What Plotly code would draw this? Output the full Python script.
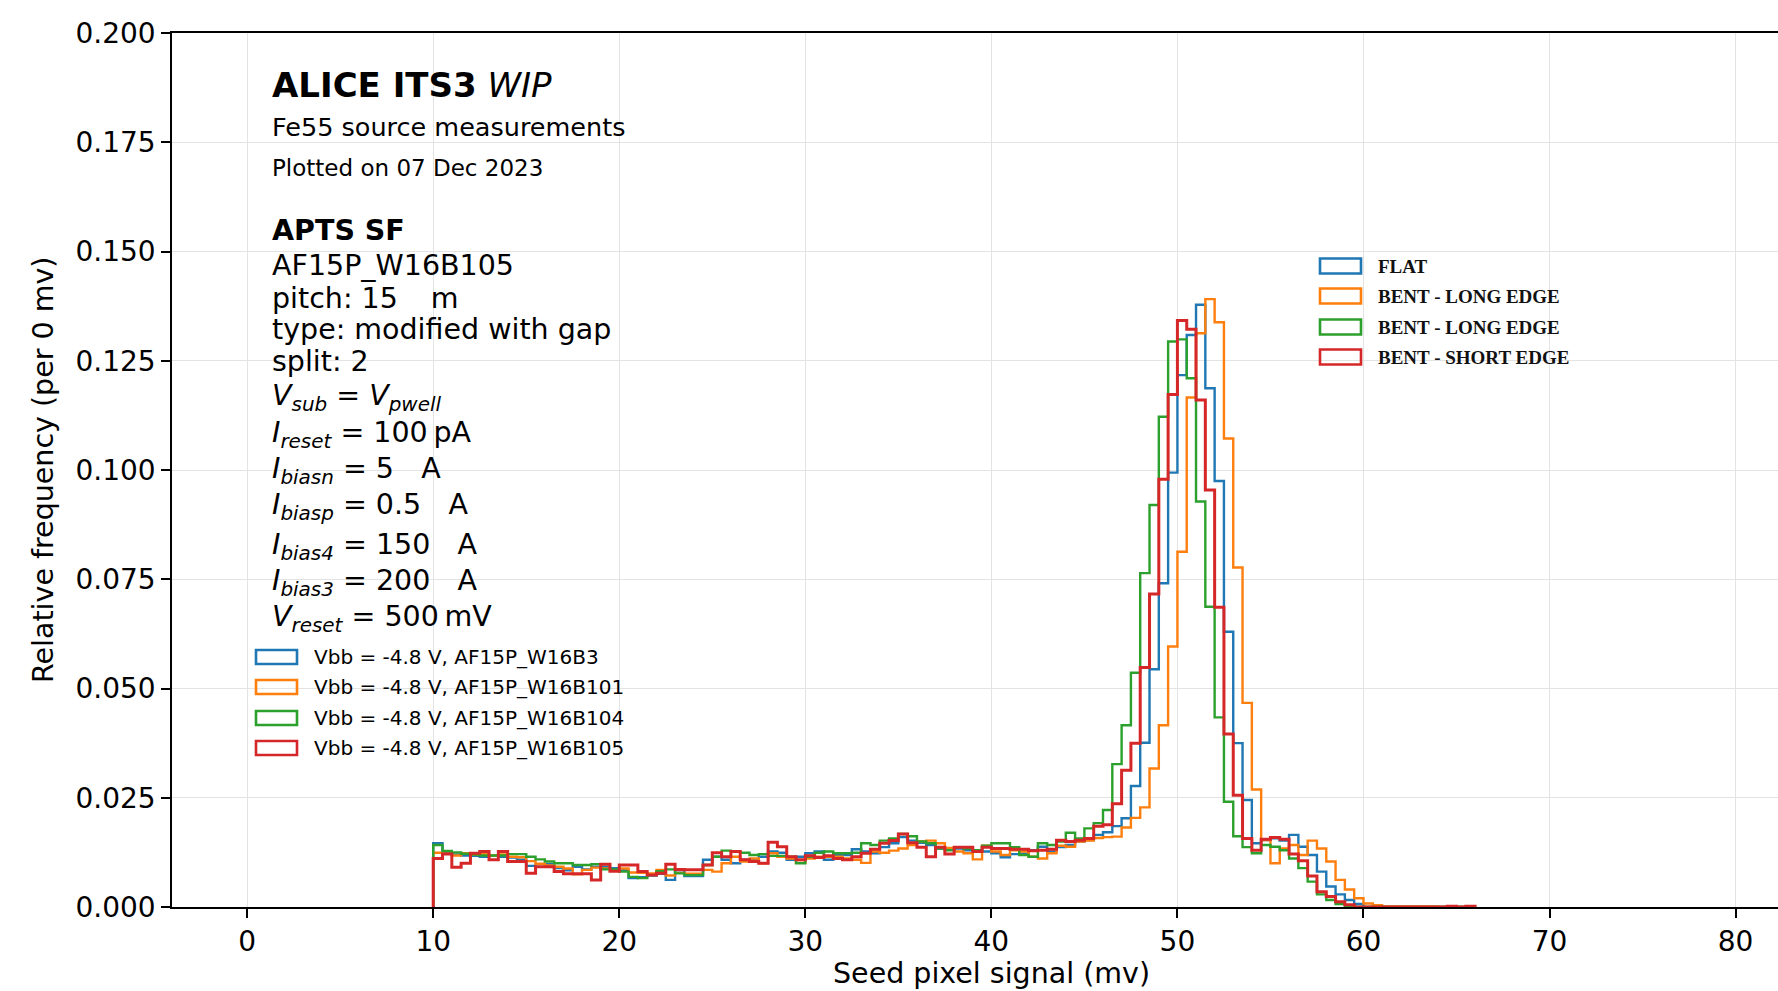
import numpy as np
import plotly.graph_objects as go

# ---------------- data ----------------
bin_start = 10.0
bin_width = 0.5

flat_b3 = [
    0.0146, 0.0125, 0.0120, 0.0118, 0.0117, 0.0115, 0.0117, 0.0115, 0.0113, 0.0108,
    0.0094, 0.0098, 0.0098, 0.0089, 0.0084, 0.0092, 0.0086, 0.0092, 0.0092, 0.0089,
    0.0084, 0.0066, 0.0068, 0.0072, 0.0076, 0.0062, 0.0084, 0.0071, 0.0071, 0.0108,
    0.0115, 0.0108, 0.0100, 0.0108, 0.0108, 0.0115, 0.0127, 0.0124, 0.0108, 0.0115,
    0.0123, 0.0127, 0.0108, 0.0119, 0.0119, 0.0132, 0.0127, 0.0123, 0.0137, 0.0146,
    0.0160, 0.0152, 0.0147, 0.0142, 0.0134, 0.0132, 0.0134, 0.0130, 0.0130, 0.0127,
    0.0123, 0.0114, 0.0121, 0.0122, 0.0130, 0.0138, 0.0127, 0.0137, 0.0142, 0.0150,
    0.0153, 0.0165, 0.0171, 0.0185, 0.0203, 0.0277, 0.0376, 0.0544, 0.0741, 0.0994,
    0.1217, 0.1309, 0.1378, 0.1187, 0.0975, 0.0630, 0.0375, 0.0245, 0.0146, 0.0153,
    0.0157, 0.0152, 0.0165, 0.0138, 0.0119, 0.0081, 0.0047, 0.0029, 0.0016, 0.0007,
    0.0, 0.0, 0.0, 0.0, 0.0, 0.0, 0.0, 0.0, 0.0, 0.0,
    0.0, 0.0,
]

bent_long_b101 = [
    0.0124, 0.0122, 0.0118, 0.0123, 0.0120, 0.0122, 0.0118, 0.0120, 0.0115, 0.0114,
    0.0105, 0.0099, 0.0095, 0.0092, 0.0088, 0.0075, 0.0085, 0.0090, 0.0088, 0.0083,
    0.0088, 0.0079, 0.0078, 0.0077, 0.0085, 0.0072, 0.0078, 0.0076, 0.0076, 0.0085,
    0.0081, 0.0100, 0.0115, 0.0104, 0.0111, 0.0100, 0.0123, 0.0115, 0.0111, 0.0101,
    0.0111, 0.0115, 0.0115, 0.0115, 0.0111, 0.0108, 0.0101, 0.0127, 0.0124, 0.0129,
    0.0134, 0.0142, 0.0150, 0.0152, 0.0146, 0.0135, 0.0127, 0.0123, 0.0109, 0.0140,
    0.0127, 0.0119, 0.0130, 0.0127, 0.0115, 0.0111, 0.0123, 0.0140, 0.0138, 0.0150,
    0.0152, 0.0158, 0.0160, 0.0161, 0.0182, 0.0204, 0.0228, 0.0317, 0.0416, 0.0596,
    0.0813, 0.1166, 0.1313, 0.1391, 0.1338, 0.1072, 0.0777, 0.0467, 0.0269, 0.0153,
    0.0100, 0.0134, 0.0142, 0.0119, 0.0152, 0.0134, 0.0104, 0.0062, 0.0040, 0.0020,
    0.0008, 0.0004, 0.0001, 0.0001, 0.0001, 0.0001, 0.0001, 0.0001, 0.0, 0.0,
    0.0, 0.0,
]

bent_long_b104 = [
    0.0142, 0.0128, 0.0125, 0.0122, 0.0120, 0.0118, 0.0118, 0.0118, 0.0121, 0.0121,
    0.0115, 0.0109, 0.0104, 0.0100, 0.0100, 0.0096, 0.0096, 0.0098, 0.0086, 0.0086,
    0.0081, 0.0069, 0.0066, 0.0073, 0.0082, 0.0086, 0.0077, 0.0073, 0.0073, 0.0096,
    0.0115, 0.0129, 0.0127, 0.0124, 0.0119, 0.0121, 0.0117, 0.0117, 0.0115, 0.0100,
    0.0115, 0.0124, 0.0127, 0.0123, 0.0123, 0.0124, 0.0146, 0.0142, 0.0152, 0.0157,
    0.0167, 0.0162, 0.0150, 0.0146, 0.0134, 0.0130, 0.0137, 0.0134, 0.0130, 0.0140,
    0.0146, 0.0146, 0.0137, 0.0119, 0.0115, 0.0146, 0.0142, 0.0150, 0.0170, 0.0157,
    0.0180, 0.0192, 0.0222, 0.0327, 0.0416, 0.0536, 0.0764, 0.0920, 0.1122, 0.1294,
    0.1299, 0.1210, 0.0928, 0.0687, 0.0434, 0.0241, 0.0162, 0.0137, 0.0123, 0.0142,
    0.0138, 0.0130, 0.0111, 0.0089, 0.0058, 0.0029, 0.0016, 0.0007, 0.0003, 0.0,
    0.0, 0.0, 0.0, 0.0, 0.0, 0.0, 0.0, 0.0, 0.0, 0.0,
    0.0, 0.0,
]

bent_short_b105 = [
    0.0111, 0.0121, 0.0091, 0.0100, 0.0123, 0.0127, 0.0108, 0.0127, 0.0104, 0.0104,
    0.0077, 0.0092, 0.0092, 0.0081, 0.0076, 0.0076, 0.0076, 0.0062, 0.0098, 0.0082,
    0.0096, 0.0096, 0.0081, 0.0073, 0.0077, 0.0098, 0.0086, 0.0085, 0.0085, 0.0096,
    0.0124, 0.0115, 0.0127, 0.0108, 0.0104, 0.0100, 0.0148, 0.0138, 0.0115, 0.0108,
    0.0117, 0.0113, 0.0117, 0.0111, 0.0108, 0.0115, 0.0123, 0.0132, 0.0146, 0.0152,
    0.0167, 0.0147, 0.0137, 0.0115, 0.0137, 0.0121, 0.0137, 0.0137, 0.0127, 0.0137,
    0.0134, 0.0134, 0.0132, 0.0132, 0.0129, 0.0130, 0.0132, 0.0153, 0.0150, 0.0153,
    0.0157, 0.0185, 0.0188, 0.0236, 0.0313, 0.0375, 0.0548, 0.0716, 0.0979, 0.1173,
    0.1342, 0.1322, 0.1160, 0.0954, 0.0686, 0.0396, 0.0256, 0.0157, 0.0130, 0.0155,
    0.0159, 0.0155, 0.0121, 0.0106, 0.0071, 0.0035, 0.0024, 0.0012, 0.0005, 0.0,
    0.0, 0.0, 0.0, 0.0, 0.0, 0.0, 0.0, 0.0, 0.0, 0.0002,
    0.0, 0.0002,
]

series_values = [flat_b3, bent_long_b101, bent_long_b104, bent_short_b105]
series_colors = ["#1f77b4", "#ff7f0e", "#2ca02c", "#d62728"]
labels_lower = [
    "Vbb = -4.8 V, AF15P_W16B3",
    "Vbb = -4.8 V, AF15P_W16B101",
    "Vbb = -4.8 V, AF15P_W16B104",
    "Vbb = -4.8 V, AF15P_W16B105",
]
labels_upper = ["FLAT", "BENT - LONG EDGE", "BENT - LONG EDGE", "BENT - SHORT EDGE"]

x_ticks = [0, 10, 20, 30, 40, 50, 60, 70, 80]
y_ticks = [0.0, 0.025, 0.05, 0.075, 0.1, 0.125, 0.15, 0.175, 0.2]

info_lines = [
    "AF15P_W16B105",
    "pitch: 15\u00a0\u00a0\u00a0\u2009m",
    "type: modified with gap",
    "split: 2",
    "<i>V</i><sub><i>sub</i></sub> = <i>V</i><sub><i>pwell</i></sub>",
    "<i>I</i><sub><i>reset</i></sub> = 100\u2009pA",
    "<i>I</i><sub><i>biasn</i></sub> = 5\u00a0\u00a0\u00a0A",
    "<i>I</i><sub><i>biasp</i></sub> = 0.5\u00a0\u00a0\u00a0A",
    "<i>I</i><sub><i>bias4</i></sub> = 150\u00a0\u00a0\u00a0A",
    "<i>I</i><sub><i>bias3</i></sub> = 200\u00a0\u00a0\u00a0A",
    "<i>V</i><sub><i>reset</i></sub> = 500\u2009mV",
]

# ---------------- geometry ----------------
W, H = 1778, 991
ML, MR, MT, MB = 172, 0, 33, 84
PW = W - ML - MR
PH = H - MT - MB


def pxp(x):
    return (x - ML) / PW


def pyp(y):
    return (H - MB - y) / PH


FONT = "DejaVu Sans"
fig = go.Figure()

for vals, col in zip(series_values, series_colors):
    n = len(vals)
    edges = bin_start + bin_width * np.arange(n + 1)
    xs = [edges[0]] + list(edges)
    ys = [0.0] + list(vals) + [0.0]
    fig.add_trace(go.Scatter(
        x=xs, y=ys, mode="lines", line_shape="hv",
        line=dict(color=col, width=3.0 if col == "#d62728" else 2.4),
        showlegend=False, hoverinfo="skip",
    ))

axis_common = dict(
    showline=True, linecolor="black", linewidth=1.6,
    ticks="outside", ticklen=9, tickwidth=1.6, tickcolor="black",
    showgrid=True, gridcolor="#e3e3e3", gridwidth=1,
    zeroline=False,
    tickfont=dict(family=FONT, size=28, color="black"),
)

fig.update_layout(
    width=W, height=H,
    margin=dict(l=ML, r=MR, t=MT, b=MB, pad=0),
    paper_bgcolor="white", plot_bgcolor="white",
    showlegend=False,
    xaxis=dict(range=[-4.04, 82.28], tickvals=x_ticks, mirror=True, **axis_common),
    yaxis=dict(range=[0, 0.2], tickvals=y_ticks, tickformat=".3f", mirror=False, **axis_common),
)

ann = []
# axis titles
ann.append(dict(text="Seed pixel signal (mv)", xref="x", yref="paper", x=40, y=pyp(973),
                xanchor="center", yanchor="middle", showarrow=False,
                font=dict(family=FONT, size=28.5, color="black")))
ann.append(dict(text="Relative frequency (per 0 mv)", xref="paper", yref="paper",
                x=pxp(43), y=0.5, textangle=-90, xanchor="center", yanchor="middle",
                showarrow=False, font=dict(family=FONT, size=28.5, color="black")))

TX = pxp(270)
ann.append(dict(text="<b>ALICE ITS3</b> <i>WIP</i>", xref="paper", yref="paper", x=TX, y=pyp(85),
                xanchor="left", yanchor="middle", showarrow=False,
                font=dict(family=FONT, size=34, color="black")))
ann.append(dict(text="Fe55 source measurements", xref="paper", yref="paper", x=TX, y=pyp(127),
                xanchor="left", yanchor="middle", showarrow=False,
                font=dict(family=FONT, size=25.5, color="black")))
ann.append(dict(text="Plotted on 07 Dec 2023", xref="paper", yref="paper", x=TX, y=pyp(168),
                xanchor="left", yanchor="middle", showarrow=False,
                font=dict(family=FONT, size=23, color="black")))
ann.append(dict(text="<b>APTS SF</b>", xref="paper", yref="paper", x=TX, y=pyp(230),
                xanchor="left", yanchor="middle", showarrow=False,
                font=dict(family=FONT, size=28.5, color="black")))
info_y = [265, 298, 329, 362, 397, 434, 470, 507, 546, 582, 618]
for t, yy in zip(info_lines, info_y):
    ann.append(dict(text=t, xref="paper", yref="paper", x=TX, y=pyp(yy),
                    xanchor="left", yanchor="middle", showarrow=False,
                    font=dict(family=FONT, size=28.5, color="black")))

shapes = []
# lower-left legend
ll_y = [657, 687, 718, 748]
for lab, col, cy in zip(labels_lower, series_colors, ll_y):
    shapes.append(dict(type="rect", xref="paper", yref="paper",
                       x0=pxp(256), x1=pxp(297), y0=pyp(cy + 7), y1=pyp(cy - 7),
                       line=dict(color=col, width=2.6), fillcolor="rgba(0,0,0,0)"))
    ann.append(dict(text=lab, xref="paper", yref="paper", x=pxp(312), y=pyp(cy),
                    xanchor="left", yanchor="middle", showarrow=False,
                    font=dict(family=FONT, size=20, color="black")))

# upper-right legend
ur_y = [266, 296, 327, 357]
for lab, col, cy in zip(labels_upper, series_colors, ur_y):
    shapes.append(dict(type="rect", xref="paper", yref="paper",
                       x0=pxp(1320), x1=pxp(1361), y0=pyp(cy + 7.5), y1=pyp(cy - 7.5),
                       line=dict(color=col, width=2.6), fillcolor="rgba(0,0,0,0)"))
    ann.append(dict(text="<b>" + lab + "</b>", xref="paper", yref="paper", x=pxp(1376), y=pyp(cy),
                    xanchor="left", yanchor="middle", showarrow=False,
                    font=dict(family="Liberation Serif", size=19, color="#111111")))

fig.update_layout(annotations=ann, shapes=shapes)
fig.write_html("out.html")
